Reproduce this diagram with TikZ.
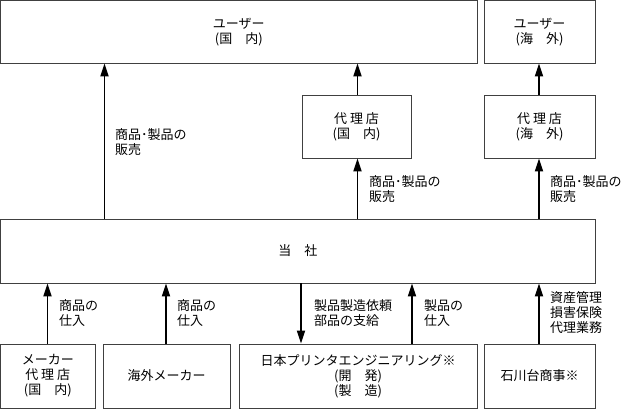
\documentclass[tikz,border=0pt]{standalone}
\usepackage{fontspec}
\setmainfont{Noto Sans CJK JP}
\usetikzlibrary{arrows.meta}
\newcommand\fs{\fontsize{13}{15}\selectfont}
\begin{document}
\begin{tikzpicture}[x=1pt,y=-1pt,
  box/.style={draw=black!75, line width=0.9pt, inner sep=0pt, align=center, font=\fs},
  arr/.style={line width=1.9pt, -{Triangle[length=13pt,width=8pt]}},
  lbl/.style={anchor=north west, inner sep=0pt, align=left, font=\fs}]
\useasboundingbox (0,0) rectangle (623,409);
% boxes
\node[box, minimum width=476.5pt, minimum height=62.5pt] (ud) at (238.75,31.75) {ユーザー\\(国　内)};
\node[box, minimum width=111pt, minimum height=62.5pt] (uo) at (539.5,31.75) {ユーザー\\(海　外)};
\node[box, minimum width=109pt, minimum height=63pt] (ad) at (356.5,126.5) {代 理 店\\(国　内)};
\node[box, minimum width=111pt, minimum height=63pt] (ao) at (539.5,126.5) {代 理 店\\(海　外)};
\node[box, minimum width=594.5pt, minimum height=64pt] (ts) at (297.75,251) {当　社};
\node[box, minimum width=94.5pt, minimum height=64pt] (b1) at (47.75,376) {メーカー\\代 理 店\\(国　内)};
\node[box, minimum width=127pt, minimum height=64pt] (b2) at (166.5,376) {海外メーカー};
\node[box, minimum width=238pt, minimum height=64pt] (b3) at (358,376) {日本プリンタエンジニアリング※\\(開　発)\\(製　造)};
\node[box, minimum width=111pt, minimum height=64pt] (b4) at (539.5,376) {石川台商事※};
% upper arrows
\draw[arr] (104.5,0 |- ts.north) -- (104.5,0 |- ud.south);
\draw[arr] (357.5,0 |- ts.north) -- (357.5,0 |- ad.south);
\draw[arr] (357.5,0 |- ad.north) -- (357.5,0 |- ud.south);
\draw[arr] (539,0 |- ts.north) -- (539,0 |- ao.south);
\draw[arr] (539,0 |- ao.north) -- (539,0 |- uo.south);
% lower arrows
\draw[arr] (47.5,0 |- b1.north) -- (47.5,0 |- ts.south);
\draw[arr] (166,0 |- b2.north) -- (166,0 |- ts.south);
\draw[arr] (301,0 |- ts.south) -- (301,0 |- b3.north);
\draw[arr] (412,0 |- b3.north) -- (412,0 |- ts.south);
\draw[arr] (539,0 |- b4.north) -- (539,0 |- ts.south);
% labels
\node[lbl] (l1) at (115,128) {商品･製品の\\販売};
\node[lbl] (l2) at (369,175) {商品･製品の\\販売};
\node[lbl] (l3) at (550,175) {商品･製品の\\販売};
\node[lbl] (l4) at (59,299) {商品の\\仕入};
\node[lbl] (l5) at (177,299) {商品の\\仕入};
\node[lbl] (l6) at (314,299) {製品製造依頼\\部品の支給};
\node[lbl] (l7) at (424,299) {製品の\\仕入};
\node[lbl] (l8) at (550,291) {資産管理\\損害保険\\代理業務};
\end{tikzpicture}
\end{document}
